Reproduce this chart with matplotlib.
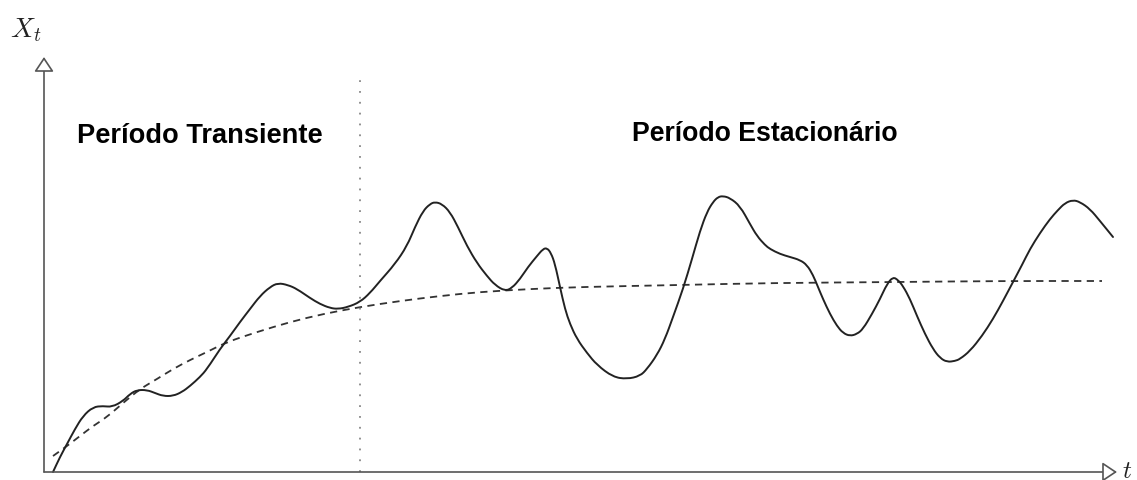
import matplotlib
matplotlib.use("Agg")
import matplotlib.pyplot as plt
from matplotlib.path import Path
from matplotlib.patches import PathPatch

# --- data (t, X_t) ---
solid_t = [9, 16, 23, 31, 39, 49, 59, 68, 79, 86, 93, 103, 111, 119, 129, 138, 146, 156, 163,
           176, 186, 196, 206, 216, 226, 234, 244, 253, 266, 276, 286, 294, 304, 316, 326, 336,
           351, 363, 371, 379, 386, 391, 398, 406, 414, 423, 433, 443, 451, 461, 468, 476, 484,
           493, 499, 503, 507, 511, 516, 521, 526, 533, 543, 553, 569, 583, 596, 603, 613, 621,
           629, 639, 648, 656, 663, 669, 674, 679, 686, 696, 706, 713, 721, 726, 736, 746, 756,
           763, 769, 774, 779, 786, 793, 799, 806, 813, 819, 828, 836, 843, 849, 854, 859, 866,
           873, 881, 889, 896, 903, 911, 916, 926, 938, 949, 959, 969, 978, 986, 996, 1006,
           1014, 1021, 1029, 1036, 1046, 1056, 1069]
solid_x = [0, 15, 28, 43, 56, 65, 66, 65, 71, 78, 82, 82, 79, 76, 76, 80, 86, 95, 103,
           123, 136, 150, 163, 176, 185, 189, 187, 183, 174, 168, 164, 163, 165, 170, 179, 191,
           208, 226, 245, 261, 268, 270, 268, 260, 245, 226, 209, 196, 187, 181, 184, 193, 205,
           216, 223, 224, 219, 208, 185, 163, 148, 133, 119, 107, 95, 93, 96, 103, 117, 133,
           155, 183, 213, 241, 260, 270, 275, 276, 274, 266, 248, 236, 227, 223, 218, 215, 212,
           207, 197, 185, 173, 158, 146, 139, 136, 138, 143, 158, 173, 188, 195, 192, 186, 173,
           156, 138, 123, 114, 110, 111, 113, 121, 136, 153, 171, 190, 207, 223, 239, 253,
           262, 269, 272, 270, 263, 251, 235]

mean_t = [9, 23, 36, 49, 63, 79, 96, 113, 129, 146, 163, 183, 213, 246, 279, 316, 356, 396,
          436, 486, 536, 636, 726, 856, 956, 1058]
mean_x = [16, 26, 36, 46, 55, 69, 83, 93, 103, 112, 120, 130, 140, 150, 158, 165, 171, 176,
          180, 183, 185, 187, 189, 190, 191, 191]

cut_t = 316          # end of transient period
cut_top = 393
t_max = 1073         # x-axis arrow tip
x_max = 415          # y-axis arrow tip

labels = ["Período Transiente", "Período Estacionário"]


def smooth_path(ts, xs):
    """Quadratic-Bezier path using the read points as control points."""
    pts = list(zip(ts, xs))
    verts = [pts[0]]
    codes = [Path.MOVETO]
    mids = [((pts[i][0] + pts[i + 1][0]) / 2, (pts[i][1] + pts[i + 1][1]) / 2)
            for i in range(len(pts) - 1)]
    verts.append(mids[0])
    codes.append(Path.LINETO)
    for i in range(1, len(pts) - 1):
        verts += [pts[i], mids[i]]
        codes += [Path.CURVE3, Path.CURVE3]
    verts.append(pts[-1])
    codes.append(Path.LINETO)
    return Path(verts, codes)


# --- figure ---
fig = plt.figure(figsize=(11.37, 4.81), dpi=100)
ax = fig.add_axes([0, 0, 1, 1])
ax.set_xlim(-44, 1093)
ax.set_ylim(-8, 473)
ax.axis("off")
plt.rcParams["mathtext.fontset"] = "cm"

axis_col = "#555555"
arrow_kw = dict(arrowstyle="-|>,head_length=0.45,head_width=0.3", fc="white", ec=axis_col,
                lw=1.2, shrinkA=0, shrinkB=0, mutation_scale=20)
ax.annotate("", xy=(0, x_max), xytext=(0, 0), arrowprops=arrow_kw)
ax.annotate("", xy=(t_max, 0), xytext=(0, 0), arrowprops=arrow_kw)

ax.plot([cut_t, cut_t], [0, cut_top], color="#888888", lw=1.3, linestyle=(0, (1, 5)))

ax.add_patch(PathPatch(smooth_path(mean_t, mean_x), fill=False, ec="#333333", lw=1.3,
                       linestyle=(0, (4, 3))))
ax.add_patch(PathPatch(smooth_path(solid_t, solid_x), fill=False, ec="#222222", lw=1.4,
                       joinstyle="round", capstyle="round"))

ax.text(33, 330, labels[0], fontsize=19.6, fontweight="bold", family="Liberation Sans",
        ha="left", va="baseline")
ax.text(588, 332, labels[1], fontsize=19.2, fontweight="bold", family="Liberation Sans",
        ha="left", va="baseline")

ax.text(-34, 436, r"$X_t$", fontsize=20, ha="left", va="baseline", color="#222222")
ax.text(1078, -5, r"$t$", fontsize=18, ha="left", va="baseline", color="#222222")

fig.savefig("out.png", dpi=100)
